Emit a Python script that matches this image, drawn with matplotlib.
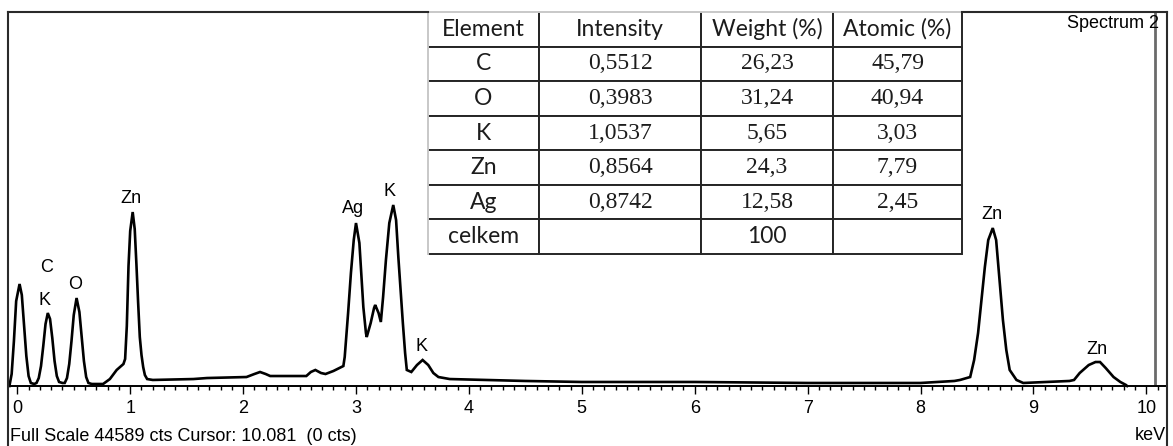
import matplotlib
matplotlib.use("Agg")
import matplotlib.pyplot as plt
from matplotlib.lines import Line2D

# ---- spectrum (energy in keV, counts) ----
energy_kev = [
    -0.07, -0.05, -0.03, -0.01, 0.02, 0.04, 0.06, 0.08, 0.10, 0.12, 0.15,
    0.17, 0.19, 0.21, 0.23, 0.25, 0.27, 0.29, 0.31, 0.33, 0.35, 0.37, 0.40,
    0.42, 0.44, 0.46, 0.48, 0.50, 0.525, 0.55, 0.57, 0.59, 0.61, 0.63, 0.66,
    0.76, 0.82, 0.88, 0.92, 0.94, 0.955, 0.97, 0.985, 1.00, 1.022, 1.04, 1.055,
    1.07, 1.085, 1.10, 1.115, 1.13, 1.15, 1.20,
    1.56, 1.68, 2.03, 2.10, 2.15, 2.20, 2.24, 2.56, 2.60, 2.64, 2.69, 2.73,
    2.80, 2.87,
    2.888, 2.90, 2.93, 2.955, 2.98, 3.00, 3.03, 3.045, 3.065, 3.088, 3.095,
    3.13, 3.16, 3.17, 3.20, 3.22, 3.24, 3.265, 3.295, 3.33, 3.355, 3.375,
    3.395, 3.415, 3.435, 3.45, 3.49, 3.54, 3.59, 3.64, 3.685, 3.73, 3.83,
    4.50, 5.00, 6.00, 7.00, 8.00, 8.30,
    8.35, 8.44, 8.475, 8.51, 8.54, 8.57, 8.60, 8.64, 8.67, 8.69, 8.71, 8.73,
    8.76, 8.79, 8.85, 8.91,
    9.32, 9.36, 9.41, 9.49, 9.55, 9.59, 9.64, 9.71, 9.77, 9.82, 9.83,
]
counts = [
    0, 1430, 5360, 10130, 12160, 10850, 7150, 3580, 1190, 360, 240,
    360, 950, 2380, 4770, 7390, 8700, 7990, 5720, 2980, 1190, 480, 360,
    360, 950, 2620, 5360, 8460, 10490, 8820, 5960, 2980, 1070, 360, 240,
    240, 830, 1910, 2380, 2620, 3220, 7150, 14300, 18480, 20740, 18710, 14540,
    10010, 5840, 3700, 2260, 1310, 830, 720,
    830, 950, 1070, 1430, 1670, 1430, 1190, 1190, 1670, 1910, 1550, 1430,
    1790, 2260,
    2380, 3460, 8700, 13470, 17400, 19430, 17050, 13830, 9420, 6320, 5840,
    7510, 9300, 9660, 8700, 7630, 10610, 15020, 19430, 21580, 19790, 15380,
    11440, 7510, 3930, 1910, 1670, 2500, 3100, 2500, 1550, 1070, 830,
    600, 480, 480, 360, 360, 600,
    720, 1070, 3100, 6320, 10250, 14180, 17400, 18830, 17400, 14180, 11090, 7870,
    4290, 1910, 720, 360,
    600, 720, 1550, 2500, 2860, 2860, 2150, 1070, 480, 120, 0,
]

full_scale = 44589
cursor_kev = 10.081

# ---- peak markers ----
peak_names = ["Zn", "C", "K", "O", "Ag", "K", "K", "Zn", "Zn"]
peak_kev = [1.01, 0.26, 0.24, 0.51, 2.97, 3.30, 3.58, 8.63, 9.56]
peak_label_cts = [22410, 14070, 10250, 12160, 21220, 23240, 4650, 20500, 4410]

major_ticks = list(range(0, 11))
minor_ticks = [i / 10 for i in range(0, 102)]

# ---- quantification table ----
table_header = ["Element", "Intensity", "Weight (%)", "Atomic (%)"]
elements = ["C", "O", "K", "Zn", "Ag", "celkem"]
intensity = ["0,5512", "0,3983", "1,0537", "0,8564", "0,8742", ""]
weight_pct = ["26,23", "31,24", "5,65", "24,3", "12,58", "100"]
atomic_pct = ["45,79", "40,94", "3,03", "7,79", "2,45", ""]

W, H = 1173, 446
SANS = "Liberation Sans"


def fx(px):
    return px / W


def fy(py):
    return 1 - py / H


fig = plt.figure(figsize=(W / 100, H / 100), dpi=100)
fig.patch.set_facecolor("white")

# keV -> pixel: 17.3 + 112.9 * E
x_left_px, x_right_px = 8.3, 1167.3
axis_y_px, top_y_px = 386, 12
ax = fig.add_axes([fx(x_left_px), fy(axis_y_px),
                   (x_right_px - x_left_px) / W, (axis_y_px - top_y_px) / H])
ax.set_xlim((x_left_px - 17.3) / 112.9, (x_right_px - 17.3) / 112.9)
ax.set_ylim(0, full_scale)
ax.patch.set_alpha(0)
for side in ("top", "left", "right"):
    ax.spines[side].set_visible(False)
ax.spines["bottom"].set_linewidth(1.4)
ax.spines["bottom"].set_color("black")
ax.set_yticks([])
ax.set_xticks(major_ticks)
ax.set_xticklabels([str(t) for t in major_ticks], fontsize=13, family=SANS)
ax.set_xticks(minor_ticks, minor=True)
ax.tick_params(axis="x", which="major", direction="out", length=5.4,
               width=1.0, pad=5.0, color="black")
ax.tick_params(axis="x", which="minor", direction="out", length=3.2,
               width=1.0, color="black")

ax.plot(energy_kev, counts, color="black", lw=1.9, solid_joinstyle="miter",
        clip_on=False)
ax.axvline(cursor_kev, color="#6a6a6a", lw=2.0)

for name, e, c in zip(peak_names, peak_kev, peak_label_cts):
    ax.text(e, c, name, ha="center", va="center", fontsize=13, family=SANS)

# frame around the chart
frame_kw = dict(color="#2a2a2a", lw=1.5, transform=fig.transFigure)
fig.add_artist(Line2D([fx(x_left_px), fx(x_left_px)], [fy(top_y_px), 0], **frame_kw))
fig.add_artist(Line2D([fx(x_right_px), fx(x_right_px)], [fy(top_y_px), 0], **frame_kw))
fig.add_artist(Line2D([fx(x_left_px), fx(428)], [fy(top_y_px), fy(top_y_px)], **frame_kw))
fig.add_artist(Line2D([fx(962), fx(x_right_px)], [fy(top_y_px), fy(top_y_px)], **frame_kw))

fig.text(fx(1159), fy(23), "Spectrum 2", ha="right", va="center",
         fontsize=13, family=SANS)
fig.text(fx(1166), fy(435), "keV", ha="right", va="center",
         fontsize=13, family=SANS)
fig.text(fx(10), fy(441), "Full Scale %d cts Cursor: %.3f  (0 cts)" % (full_scale, cursor_kev),
         ha="left", va="baseline", fontsize=13, family=SANS)

# table
tl, tr, tt, tb = 428, 962, 12, 254
tax = fig.add_axes([fx(tl), fy(tb), (tr - tl) / W, (tb - tt) / H])
tax.set_xlim(0, 1)
tax.set_ylim(0, 1)
tax.axis("off")
rows = [table_header] + [list(r) for r in zip(elements, intensity, weight_pct, atomic_pct)]
col_px = [111, 162, 132, 129]
col_w = [c / sum(col_px) for c in col_px]
tbl = tax.table(cellText=rows, cellLoc="center", colWidths=col_w,
                bbox=[0, 0, 1, 1])
tbl.auto_set_font_size(False)
ink = "#1c1c1c"
for (r, c), cell in tbl.get_celld().items():
    cell.set_edgecolor("#262626")
    cell.set_linewidth(1.4)
    cell.set_facecolor("white")
    edges = "BRTL"
    if r == 0:
        edges = edges.replace("T", "")
    if c == 0:
        edges = edges.replace("L", "")
    cell.visible_edges = edges
    txt = cell.get_text()
    txt.set_color(ink)
    numeric = r > 0 and c > 0 and rows[r][c] not in ("", "100")
    if numeric:
        txt.set_fontfamily("Liberation Serif")
        txt.set_fontsize(17)
    else:
        txt.set_fontfamily("Lato")
        txt.set_fontsize(16.5)
tax.plot([0, 1], [1, 1], color="#c8c8c8", lw=1.4, clip_on=False, zorder=5)
tax.plot([0, 0], [0, 1], color="#c8c8c8", lw=1.4, clip_on=False, zorder=5)

fig.savefig("out.png", dpi=100)
